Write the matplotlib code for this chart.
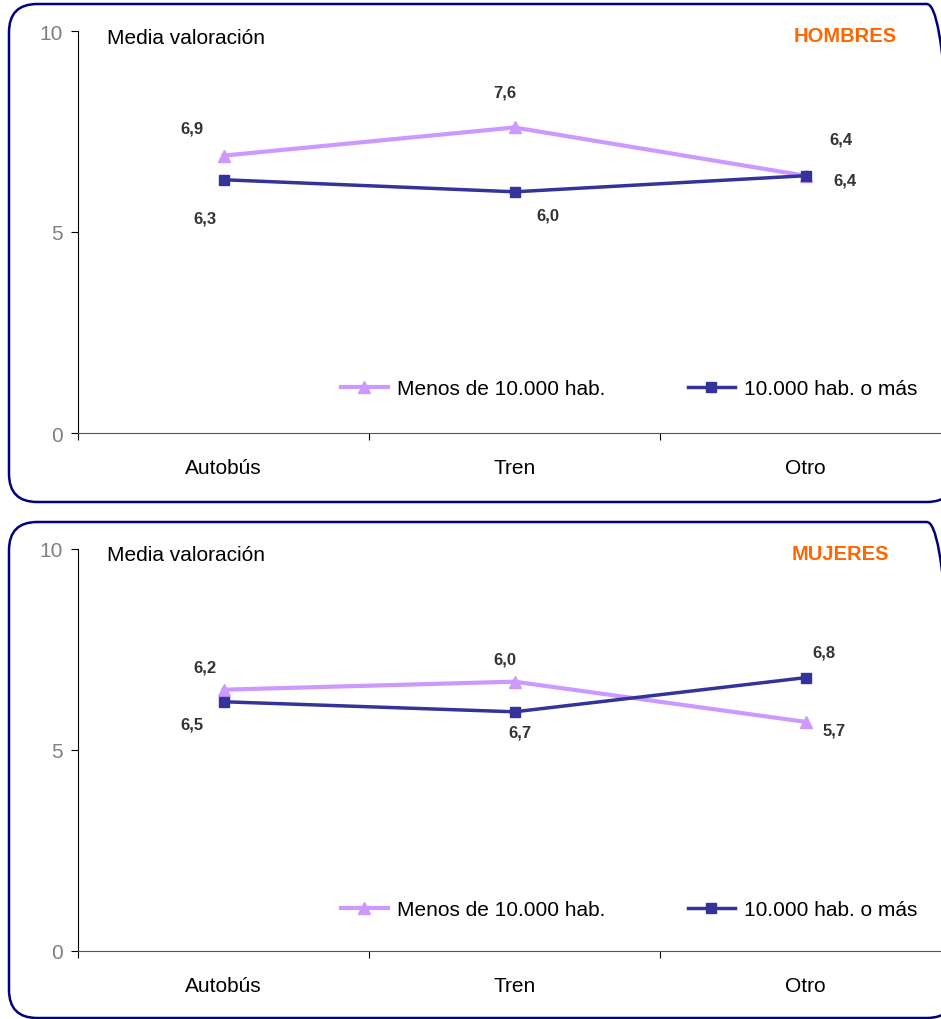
import matplotlib.pyplot as plt
import numpy as np
from matplotlib.patches import FancyBboxPatch

plt.rcParams['font.family'] = ['Liberation Sans', 'DejaVu Sans']

# ---- data ----
categorias = ['Autobús', 'Tren', 'Otro']
series = ['Menos de 10.000 hab.', '10.000 hab. o más']

hombres_menos = [6.9, 7.6, 6.4]
hombres_mas = [6.3, 6.0, 6.4]
mujeres_menos = [6.5, 6.7, 5.7]
mujeres_mas = [6.2, 5.95, 6.8]

# data labels as printed in the source chart
hombres_etq_menos = ['6,9', '7,6', '6,4']
hombres_etq_mas = ['6,3', '6,0', '6,4']
mujeres_etq_menos = ['6,2', '6,0', '5,7']
mujeres_etq_mas = ['6,5', '6,7', '6,8']

C_LIGHT = '#CC99FF'
C_DARK = '#333399'
C_LBL = '#333333'
W, H = 941, 1020


def fx(px):
    return px / W


def fy(py):
    return 1 - py / H


fig = plt.figure(figsize=(W / 100, H / 100), dpi=100)

# rounded frames (right side runs off the picture, like the original)
for top, bot in [(5, 503), (523, 1019)]:
    box = FancyBboxPatch((fx(9), fy(bot)), fx(955 - 9), fy(top) - fy(bot),
                         boxstyle='round,pad=0,rounding_size=0.03',
                         transform=fig.transFigure, fill=False,
                         edgecolor='#000080', linewidth=1.8,
                         mutation_aspect=W / H)
    fig.patches.append(box)


def panel(ytop, ybot, menos, mas, etq_menos, etq_mas, off_menos, off_mas,
          titulo, tit_x, leg_y):
    ax = fig.add_axes([fx(78), fy(ybot), fx(3 * 291), fy(ytop) - fy(ybot)])
    x = np.arange(len(categorias))
    ax.plot(x, menos, color=C_LIGHT, lw=3, marker='^', ms=8, label=series[0], zorder=3)
    ax.plot(x, mas, color=C_DARK, lw=2.5, marker='s', ms=7, label=series[1], zorder=4)
    for i in range(len(x)):
        ax.annotate(etq_menos[i], (x[i], menos[i]), xytext=off_menos[i],
                    textcoords='offset pixels', ha='center', va='center',
                    fontsize=12, fontweight='bold', color=C_LBL)
        ax.annotate(etq_mas[i], (x[i], mas[i]), xytext=off_mas[i],
                    textcoords='offset pixels', ha='center', va='center',
                    fontsize=12, fontweight='bold', color=C_LBL)
    ax.set_xlim(-0.5, 2.5)
    ax.set_ylim(0, 10)
    ax.set_yticks([0, 5, 10])
    ax.tick_params(axis='y', colors='#808080', labelsize=15, length=5, width=0.8,
                   direction='out', pad=6)
    ax.tick_params(axis='y', color='black')
    ax.set_xticks(x)
    ax.set_xticklabels(categorias, fontsize=15)
    ax.tick_params(axis='x', which='major', length=0, pad=18)
    ax.set_xticks([-0.5, 0.5, 1.5, 2.5], minor=True)
    ax.tick_params(axis='x', which='minor', length=5, width=0.8, direction='out')
    for s in ['top', 'right']:
        ax.spines[s].set_visible(False)
    ax.spines['left'].set_linewidth(0.8)
    ax.spines['bottom'].set_linewidth(0.8)
    ax.spines['bottom'].set_color('#555555')
    ax.patch.set_alpha(0)

    fig.text(fx(107), fy(ytop + 6), 'Media valoración', fontsize=15,
             ha='left', va='center')
    fig.text(fx(tit_x), fy(ytop + 5), titulo, fontsize=14.5, fontweight='bold',
             color='#FF6600', ha='center', va='center')
    fig.legend(*ax.get_legend_handles_labels(), loc='center left',
               bbox_to_anchor=(fx(341), fy(leg_y)), ncol=2, frameon=False,
               fontsize=15, handlelength=2.25, handletextpad=0.45,
               columnspacing=3.95, borderpad=0, borderaxespad=0)
    return ax


panel(32, 434, hombres_menos, hombres_mas, hombres_etq_menos, hombres_etq_mas,
      [(-32, 28), (-10, 35), (35, 37)], [(-19, -38), (33, -23), (39, -4)],
      'HOMBRES', 845, 390)
panel(550, 952, mujeres_menos, mujeres_mas, mujeres_etq_menos, mujeres_etq_mas,
      [(-19, 23), (-10, 23), (29, -8)], [(-32, -22), (5, -20), (18, 26)],
      'MUJERES', 840, 911)

fig.savefig('out.png', dpi=100)
